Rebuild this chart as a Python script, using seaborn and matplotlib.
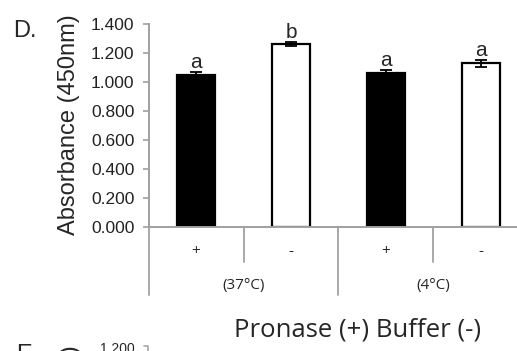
import matplotlib
matplotlib.use("Agg")
import matplotlib.pyplot as plt
import matplotlib.transforms as mtransforms
import pandas as pd
import seaborn as sns

# values
conditions = ["37C +", "37C -", "4C +", "4C -"]
treatment = ["Pronase", "Buffer", "Pronase", "Buffer"]
absorbance = [1.048, 1.262, 1.065, 1.128]
errors = [0.022, 0.015, 0.015, 0.022]
letters = ["a", "b", "a", "a"]
sign_labels = ["+", "-", "+", "-"]
group_labels = ["(37°C)", "(4°C)"]
y_ticks = [0.0, 0.2, 0.4, 0.6, 0.8, 1.0, 1.2, 1.4]

df = pd.DataFrame({"condition": conditions, "treatment": treatment, "absorbance": absorbance})

sns.set_style("white")
plt.rcParams["font.family"] = ["Liberation Sans", "DejaVu Sans"]

fig = plt.figure(figsize=(5.17, 3.51), dpi=100)
ax = fig.add_axes([148.5 / 517, 124 / 351, 380 / 517, 203 / 351])

sns.barplot(data=df, x="condition", y="absorbance", hue="treatment", order=conditions,
            palette={"Pronase": "black", "Buffer": "white"}, edgecolor="black",
            linewidth=1.6, width=0.41, dodge=False, legend=False, errorbar=None, ax=ax)

ax.errorbar(range(len(conditions)), absorbance, yerr=errors, fmt="none",
            ecolor="black", elinewidth=1.3, capsize=4, capthick=1.3, zorder=5)

for i, (v, e, lt) in enumerate(zip(absorbance, errors, letters)):
    ax.annotate(lt, (i, v + e), xytext=(0, 0), textcoords="offset points",
                ha="center", va="bottom", fontsize=15)

ax.set_xlim(-0.5, 3.5)
ax.set_ylim(0, 1.4)
ax.set_yticks(y_ticks)
ax.set_yticklabels([f"{t:.3f}" for t in y_ticks], fontsize=12.5, color="#222222")
ax.tick_params(axis="y", direction="out", length=4, width=1.2, color="#a0a0a0", left=True, pad=6)
ax.set_xticks([])
ax.set_xlabel("")
ax.set_ylabel("")
for side in ["top", "right"]:
    ax.spines[side].set_visible(False)
for side in ["left", "bottom"]:
    ax.spines[side].set_color("#a0a0a0")
    ax.spines[side].set_linewidth(1.4)

# two level category axis
trans = mtransforms.blended_transform_factory(ax.transData, ax.transAxes)
grey = "#a8a8a8"
for i, s in enumerate(sign_labels):
    ax.text(i, -0.123, s, transform=trans, ha="center", va="center",
            fontsize=11, family=["Open Sans"])
for j, g in enumerate(group_labels):
    ax.text(2 * j + 0.5, -0.286, g, transform=trans, ha="center", va="center",
            fontsize=11, family=["Open Sans"])
for xb in [0.5, 2.5]:
    ax.plot([xb, xb], [0, -0.172], transform=trans, color=grey, lw=1.4, clip_on=False)
for xb in [-0.5, 1.5, 3.5]:
    ax.plot([xb, xb], [0, -0.335], transform=trans, color=grey, lw=1.4, clip_on=False)

fig.text(358 / 517, 1 - 330 / 351, "Pronase (+) Buffer (-)", ha="center", va="center",
         fontsize=18.5, family=["Open Sans"])
fig.text(69 / 517, 1 - 125 / 351, "Absorbance (450nm)", rotation=90, ha="center",
         va="center", fontsize=17)
fig.text(13 / 517, 1 - 31 / 351, "D.", ha="left", va="center", fontsize=17)

# top of next panel, cut off at the bottom edge
fig.text(16 / 517, 1 - 344 / 351, "E.", ha="left", va="top", fontsize=17)
fig.text(71 / 517, 1 - 345 / 351, "Absorbance (450nm)", rotation=90, ha="center",
         va="top", fontsize=17)
fig.text(100 / 517, 1 - 342 / 351, "1.200", ha="left", va="top", fontsize=10)
fig.add_artist(plt.Line2D([144 / 517, 148 / 517, 148 / 517], [1 - 346 / 351, 1 - 346 / 351, 0],
                          color=grey, lw=1.2))

fig.savefig("out.png", dpi=100)
